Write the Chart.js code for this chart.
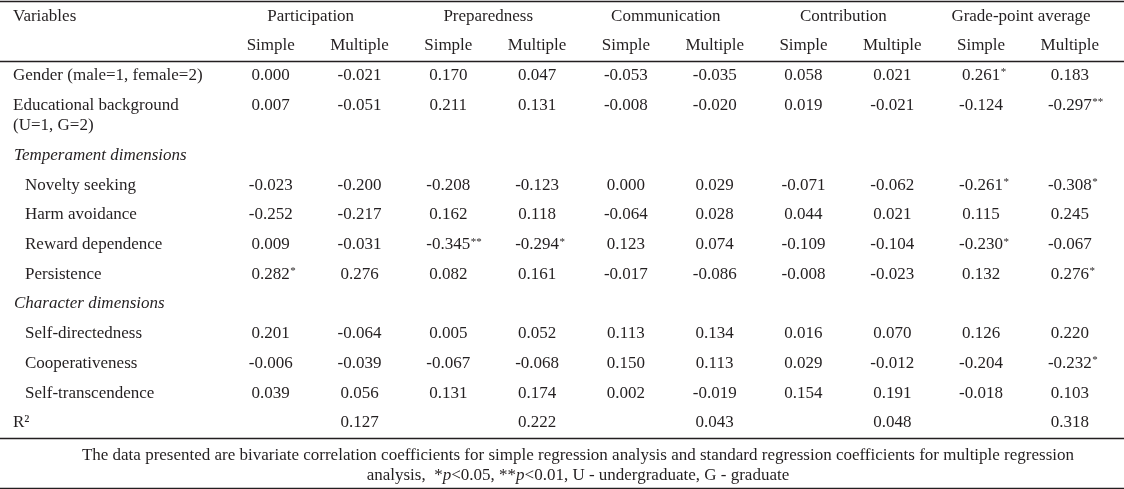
<!DOCTYPE html>
<html>
<head>
<meta charset="utf-8">
<script src="https://cdn.jsdelivr.net/npm/chart.js"></script>
<style>
  html, body { margin: 0; padding: 0; background: #fff; }
  #wrap { width: 1124px; height: 489px; }
</style>
</head>
<body>
<div id="wrap"><canvas id="regTable" width="1124" height="489"></canvas></div>
<script>
// --- table content ---
const outcomes = ['Participation', 'Preparedness', 'Communication', 'Contribution', 'Grade-point average'];
const models = ['Simple', 'Multiple'];

const generalRows = ['Gender (male=1, female=2)', 'Educational background\n(U=1, G=2)'];
const temperamentRows = ['Novelty seeking', 'Harm avoidance', 'Reward dependence', 'Persistence'];
const characterRows = ['Self-directedness', 'Cooperativeness', 'Self-transcendence'];

// one array per column, rows in order: general, temperament, character
const participationSimple   = [0.000, 0.007, -0.023, -0.252, 0.009, 0.282, 0.201, -0.006, 0.039];
const participationMultiple = [-0.021, -0.051, -0.200, -0.217, -0.031, 0.276, -0.064, -0.039, 0.056];
const preparednessSimple    = [0.170, 0.211, -0.208, 0.162, -0.345, 0.082, 0.005, -0.067, 0.131];
const preparednessMultiple  = [0.047, 0.131, -0.123, 0.118, -0.294, 0.161, 0.052, -0.068, 0.174];
const communicationSimple   = [-0.053, -0.008, 0.000, -0.064, 0.123, -0.017, 0.113, 0.150, 0.002];
const communicationMultiple = [-0.035, -0.020, 0.029, 0.028, 0.074, -0.086, 0.134, 0.113, -0.019];
const contributionSimple    = [0.058, 0.019, -0.071, 0.044, -0.109, -0.008, 0.016, 0.029, 0.154];
const contributionMultiple  = [0.021, -0.021, -0.062, 0.021, -0.104, -0.023, 0.070, -0.012, 0.191];
const gpaSimple             = [0.261, -0.124, -0.261, 0.115, -0.230, 0.132, 0.126, -0.204, -0.018];
const gpaMultiple           = [0.183, -0.297, -0.308, 0.245, -0.067, 0.276, 0.220, -0.232, 0.103];

// R² of the multiple models, per outcome
const rSquared = [0.127, 0.222, 0.043, 0.048, 0.318];

// significance marks: outcome|model|row
const stars = {
  'Participation|Simple|Persistence': '*',
  'Preparedness|Simple|Reward dependence': '**',
  'Preparedness|Multiple|Reward dependence': '*',
  'Grade-point average|Simple|Gender (male=1, female=2)': '*',
  'Grade-point average|Simple|Novelty seeking': '*',
  'Grade-point average|Simple|Reward dependence': '*',
  'Grade-point average|Multiple|Educational background\n(U=1, G=2)': '**',
  'Grade-point average|Multiple|Novelty seeking': '*',
  'Grade-point average|Multiple|Persistence': '*',
  'Grade-point average|Multiple|Cooperativeness': '*'
};

const footnote = [
  [{ t: 'The data presented are bivariate correlation coefficients for simple regression analysis and standard regression coefficients for multiple regression' }],
  [{ t: 'analysis,  *' }, { t: 'p', i: true }, { t: '<0.05, **' }, { t: 'p', i: true }, { t: '<0.01, U - undergraduate, G - graduate' }]
];

const columns = [
  participationSimple, participationMultiple,
  preparednessSimple, preparednessMultiple,
  communicationSimple, communicationMultiple,
  contributionSimple, contributionMultiple,
  gpaSimple, gpaMultiple
];

// --- row layout (in row units, 0 = title row) ---
const rows = [];
let cursor = 2;
function addRows(labels, indent) {
  labels.forEach(label => {
    rows.push({ label, indent, y: cursor });
    cursor += 1 + (label.split('\n').length - 1) * 0.7;
  });
}
const sections = [];
addRows(generalRows, false);
sections.push({ label: 'Temperament dimensions', y: cursor }); cursor += 1;
addRows(temperamentRows, true);
sections.push({ label: 'Character dimensions', y: cursor }); cursor += 1;
addRows(characterRows, true);
const r2Row = cursor;

const INK = '#231f20';
const FONT = '"Liberation Serif", "DejaVu Serif", serif';
const SIZE = 17;

const datasets = columns.map((values, k) => {
  const outcome = outcomes[Math.floor(k / 2)];
  const model = models[k % 2];
  const data = rows.map((r, j) => ({
    x: k, y: r.y,
    text: values[j].toFixed(3),
    mark: stars[outcome + '|' + model + '|' + r.label] || ''
  }));
  if (model === 'Multiple') {
    data.push({ x: k, y: r2Row, text: rSquared[Math.floor(k / 2)].toFixed(3), mark: '' });
  }
  return { label: outcome + ' ' + model, data, pointRadius: 0, showLine: false };
});

const tablePlugin = {
  id: 'tableText',
  afterDatasetsDraw(chart) {
    const { ctx, chartArea, scales } = chart;
    const xs = scales.x, ys = scales.y;
    const left = chartArea.left, right = chartArea.right;
    ctx.save();
    ctx.fillStyle = INK;
    ctx.textBaseline = 'middle';

    // horizontal rules
    ctx.strokeStyle = INK;
    ctx.lineWidth = 1.3;
    [-0.5, 1.5, r2Row + 0.5, r2Row + 2.2].forEach(v => {
      const py = Math.round(ys.getPixelForValue(v)) + 0.5;
      ctx.beginPath(); ctx.moveTo(left, py); ctx.lineTo(right, py); ctx.stroke();
    });

    ctx.font = SIZE + 'px ' + FONT;
    // header
    ctx.textAlign = 'left';
    ctx.fillText('Variables', left + 13, ys.getPixelForValue(0));
    ctx.textAlign = 'center';
    outcomes.forEach((o, g) => {
      ctx.fillText(o, xs.getPixelForValue(g * 2 + 0.45), ys.getPixelForValue(0));
      models.forEach((m, s) => {
        ctx.fillText(m, xs.getPixelForValue(g * 2 + s), ys.getPixelForValue(1));
      });
    });

    // row labels
    ctx.textAlign = 'left';
    rows.forEach(r => {
      r.label.split('\n').forEach((line, li) => {
        ctx.fillText(line, left + (r.indent ? 25 : 13), ys.getPixelForValue(r.y + li * 0.7));
      });
    });
    ctx.font = 'italic ' + SIZE + 'px ' + FONT;
    sections.forEach(s => ctx.fillText(s.label, left + 14, ys.getPixelForValue(s.y)));
    ctx.font = SIZE + 'px ' + FONT;
    ctx.fillText('R\u00B2', left + 13, ys.getPixelForValue(r2Row));

    // cells
    chart.data.datasets.forEach((ds, i) => {
      const meta = chart.getDatasetMeta(i);
      meta.data.forEach((pt, j) => {
        const cell = ds.data[j];
        ctx.font = SIZE + 'px ' + FONT;
        ctx.textAlign = 'center';
        ctx.fillText(cell.text, pt.x, pt.y);
        if (cell.mark) {
          const w = ctx.measureText(cell.text).width;
          ctx.font = '11px ' + FONT;
          ctx.textAlign = 'left';
          ctx.fillText(cell.mark, pt.x + w / 2 + 0.5, pt.y - 3);
        }
      });
    });

    // footnote
    const cx = xs.getPixelForValue(3.46);
    footnote.forEach((parts, li) => {
      const py = ys.getPixelForValue(r2Row + 1.1 + li * 0.66);
      let total = 0;
      parts.forEach(p => {
        ctx.font = (p.i ? 'italic ' : '') + SIZE + 'px ' + FONT;
        total += ctx.measureText(p.t).width;
      });
      let px = cx - total / 2;
      ctx.textAlign = 'left';
      parts.forEach(p => {
        ctx.font = (p.i ? 'italic ' : '') + SIZE + 'px ' + FONT;
        ctx.fillText(p.t, px, py);
        px += ctx.measureText(p.t).width;
      });
    });
    ctx.restore();
  }
};

new Chart(document.getElementById('regTable'), {
  type: 'scatter',
  data: { datasets },
  options: {
    responsive: false,
    devicePixelRatio: 1,
    animation: false,
    layout: { padding: 0 },
    plugins: { legend: { display: false }, tooltip: { enabled: false } },
    scales: {
      x: { type: 'linear', display: false, min: -3.049, max: 9.61 },
      y: { type: 'linear', display: false, reverse: true, min: -0.54, max: 15.93 }
    }
  },
  plugins: [tablePlugin]
});
</script>
</body>
</html>
